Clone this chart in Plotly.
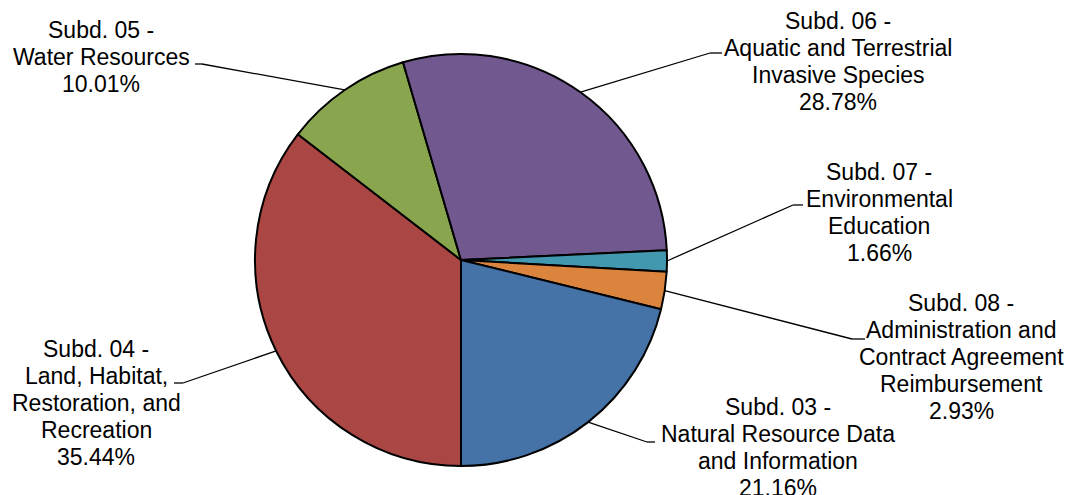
import math
import plotly.graph_objects as go

# Data (clockwise from 6 o'clock)
names = ["Subd. 04 -<br>Land, Habitat,<br>Restoration, and<br>Recreation",
         "Subd. 05 -<br>Water Resources",
         "Subd. 06 -<br>Aquatic and Terrestrial<br>Invasive Species",
         "Subd. 07 -<br>Environmental<br>Education",
         "Subd. 08 -<br>Administration and<br>Contract Agreement<br>Reimbursement",
         "Subd. 03 -<br>Natural Resource Data<br>and Information"]
shares = [35.44, 10.01, 28.78, 1.66, 2.93, 21.16]
colors = ["#AA4643", "#89A54E", "#71588F", "#4198AF", "#DB843D", "#4572A7"]

# Layout/style positions (screen pixels)
OFF = 8  # page body margin
W, H = 1074 - OFF, 495 - OFF
CX, CY, R = 461, 260, 206
label_pos = [(96, 403), (101, 57), (838, 61), (879, 212), (961, 357), (778, 447)]
elbows = [((183, 383), (174, 383)), ((202, 64), (195, 64)), ((710, 53), (722, 53)),
          ((793, 205), (803, 205)), ((852, 339), (865, 339)), ((647, 442), (655, 442))]
LINE_H = 27
FONT_SIZE = 23


def px(x, y):
    return (x - OFF) / W, 1 - (y - OFF) / H


fig = go.Figure(go.Pie(
    labels=names, values=shares, sort=False, direction="clockwise", rotation=180,
    marker=dict(colors=colors, line=dict(color="black", width=2)),
    textinfo="none", hoverinfo="label+percent", showlegend=False,
    domain=dict(x=[(CX - R - OFF) / W, (CX + R - OFF) / W],
                y=[1 - (CY + R - OFF) / H, 1 - (CY - R - OFF) / H]),
))

total = sum(shares)
cum = 0.0
shapes, annos = [], []
for name, v, (lx, ly), (e1, e2) in zip(names, shares, label_pos, elbows):
    mid = 180 + (cum + v / 2) / total * 360
    cum += v
    a = math.radians(mid)
    ex, ey = CX + R * math.sin(a), CY - R * math.cos(a)
    for (x0, y0), (x1, y1) in [((ex, ey), e1), (e1, e2)]:
        p0, p1 = px(x0, y0), px(x1, y1)
        shapes.append(dict(type="line", xref="paper", yref="paper",
                           x0=p0[0], y0=p0[1], x1=p1[0], y1=p1[1],
                           line=dict(color="black", width=1.3)))
    lines = name.split("<br>") + [f"{v:.2f}%"]
    n = len(lines)
    for i, t in enumerate(lines):
        yy = ly + (i - (n - 1) / 2) * LINE_H
        ax, ay = px(lx, yy)
        annos.append(dict(text=t, x=ax, y=ay, xref="paper", yref="paper",
                          xanchor="center", yanchor="middle", align="center", showarrow=False,
                          font=dict(family="Liberation Sans, Arial", size=FONT_SIZE, color="black")))

fig.update_layout(width=W, height=H, margin=dict(l=0, r=0, t=0, b=0),
                  paper_bgcolor="white", plot_bgcolor="white",
                  shapes=shapes, annotations=annos)
fig.write_html("out.html")
